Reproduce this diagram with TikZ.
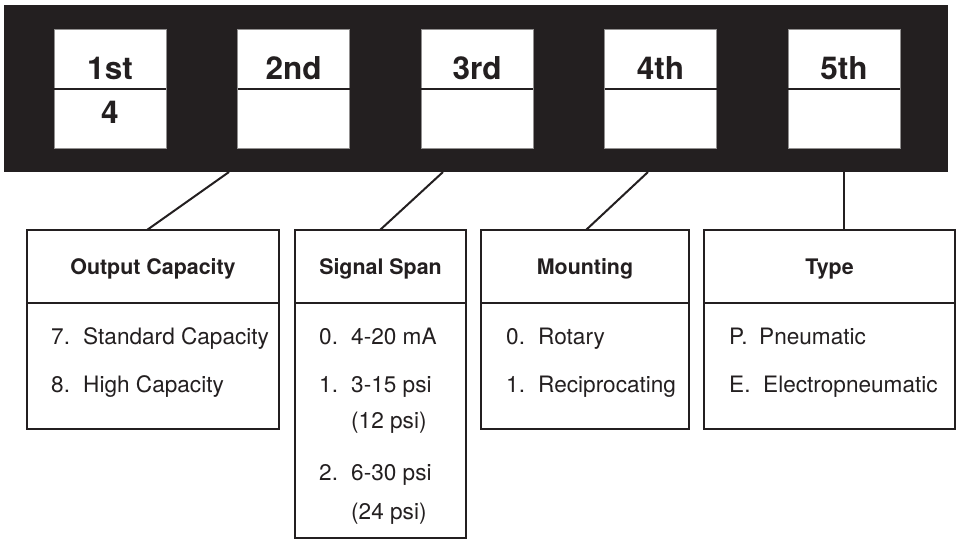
\documentclass[tikz,border=0pt]{standalone}
\usepackage{fontspec}
\setmainfont{TeX Gyre Heros}
\usetikzlibrary{positioning}
\definecolor{ink}{HTML}{231F20}
\tikzset{
  digitbox/.style={draw=ink!50,line width=0.8pt,fill=white,minimum width=112pt,minimum height=119pt,anchor=north west,inner sep=0pt,outer sep=0pt},
  digitlabel/.style={text=ink,inner sep=0pt,font=\fontsize{31.5}{31.5}\selectfont\bfseries},
  headbox/.style={draw=ink,line width=2.4pt,anchor=north west,minimum height=73pt,inner sep=0pt,outer sep=0pt,text=ink,text height=15pt,text depth=0pt,font=\fontsize{21.4}{21.4}\selectfont\bfseries},
  bodybox/.style={draw=ink,line width=2.4pt,inner sep=0pt,outer sep=0pt},
  item/.style={anchor=base west,inner sep=0pt,text=ink,font=\fontsize{22.6}{22.6}\selectfont},
  link/.style={draw=ink,line width=2pt}
}
\begin{document}
\begin{tikzpicture}[x=1pt,y=-1pt]
\useasboundingbox (0,0) rectangle (957,540);
\pgfmathsetmacro{\dsep}{183.5}
% code band with five digit boxes
\node[fill=ink,minimum width=944pt,minimum height=167pt,anchor=north west,inner sep=0pt,outer sep=0pt] (band) at (4,5) {};
\foreach \i/\t/\v in {1/1st/4,2/2nd/,3/3rd/,4/4th/,5/5th/}{
  \node[digitbox] (d\i) at ({54+(\i-1)*\dsep},29) {};
  \draw[ink,line width=1.5pt] ([yshift=-60pt]d\i.north west)--([yshift=-60pt]d\i.north east);
  \node[digitlabel] (dt\i) at ([yshift=-39pt]d\i.north) {\t};
  \node[digitlabel] (dv\i) at ([yshift=-83pt]d\i.north) {\v};
}
% option tables
\foreach \i/\x/\w/\h/\t in {1/27/252/126/Output Capacity,2/295/171/235/Signal Span,3/481/208/126/Mounting,4/704/251/126/Type}{
  \node[headbox,minimum width=\w pt] (h\i) at (\x,230) {\t};
  \node[bodybox,minimum width=\w pt,minimum height=\h pt,below=0pt of h\i] (b\i) {};
}
\draw[link] ([xshift=225pt]band.south west)--([xshift=-6pt]h1.north);
\draw[link] ([xshift=439pt]band.south west)--([xshift=-0.5pt]h2.north);
\draw[link] ([xshift=644pt]band.south west)--([xshift=1pt]h3.north);
\draw[link] ([xshift=840pt]band.south west)--([xshift=14.5pt]h4.north);
% entries
\foreach \n/\nx/\tx/\y/\t [count=\k] in {
  7./51/83/344/Standard Capacity,8./51/83/392/High Capacity,
  0./319/351/344/4-20 mA,1./319/351/392/3-15 psi,/319/351/428/(12 psi),
  2./319/351/480/6-30 psi,/319/351/519/(24 psi),
  0./506/538/344/Rotary,1./506/538/392/Reciprocating,
  P./729/759/344/Pneumatic,E./729/763/392/Electropneumatic}{
  \node[item] (num\k) at (\nx,\y) {\n};
  \node[item] (txt\k) at (\tx,\y) {\t};
}
\end{tikzpicture}
\end{document}
